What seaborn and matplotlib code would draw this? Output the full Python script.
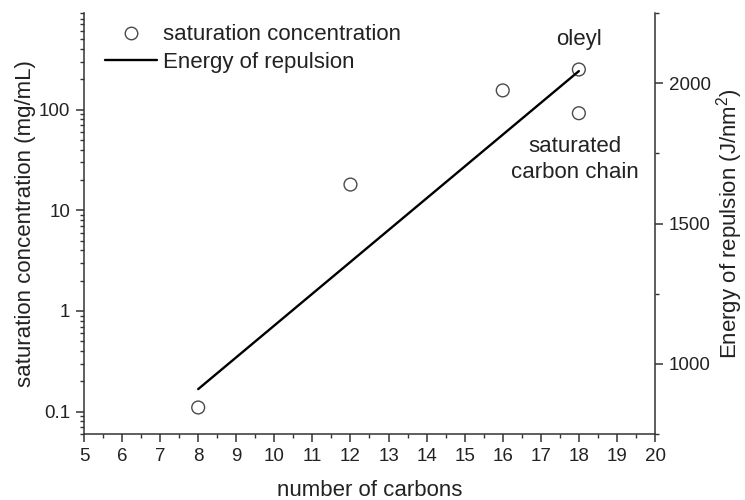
import matplotlib
matplotlib.use("Agg")
import matplotlib.pyplot as plt
from matplotlib.ticker import FixedLocator, LogLocator, MultipleLocator, FuncFormatter
from matplotlib.lines import Line2D
import numpy as np
import pandas as pd
import seaborn as sns

# Saturation concentration versus alkyl chain length
carbons = [8, 12, 16, 18, 18]
saturation_mg_ml = [0.11, 18, 155, 250, 92]

# Calculated energy of repulsion (right axis)
energy_carbons = [8, 18]
energy_j_nm2 = [910, 2043]

x_ticks = list(range(5, 21))
left_ticks = [0.1, 1, 10, 100]
left_tick_labels = ["0.1", "1", "10", "100"]
right_ticks = [1000, 1500, 2000]

sns.set_style("ticks")
plt.rcParams["font.family"] = ["Liberation Sans", "DejaVu Sans"]
plt.rcParams["mathtext.default"] = "regular"

ink = "#222222"
spine_col = "#333333"

fig = plt.figure(figsize=(7.45, 5.0), dpi=100)
ax = fig.add_axes([84 / 745, 1 - 434 / 500, (655 - 84) / 745, (434 - 13) / 500])
ax2 = ax.twinx()

sat_df = pd.DataFrame({"carbons": carbons, "saturation": saturation_mg_ml})
en_df = pd.DataFrame({"carbons": energy_carbons, "energy": energy_j_nm2})

sns.scatterplot(data=sat_df, x="carbons", y="saturation", ax=ax,
                marker="o", s=85, facecolor="none", edgecolor="#4a4a4a",
                linewidth=1.0, zorder=3, legend=False)
sns.lineplot(data=en_df, x="carbons", y="energy", ax=ax2,
             color="black", linewidth=1.7, legend=False)

# Left (log) axis
ax.set_yscale("log")
ax.set_ylim(0.06, 910)
ax.set_xlim(5, 20)
ax.xaxis.set_major_locator(FixedLocator(x_ticks))
ax.xaxis.set_minor_locator(MultipleLocator(0.5))
ax.yaxis.set_major_locator(FixedLocator(left_ticks))
ax.yaxis.set_major_formatter(FuncFormatter(
    lambda v, p: left_tick_labels[left_ticks.index(v)] if v in left_ticks else ""))
ax.yaxis.set_minor_locator(LogLocator(base=10, subs=np.arange(2, 10)))
ax.yaxis.set_minor_formatter(FuncFormatter(lambda v, p: ""))

# Right (linear) axis
ax2.set_ylim(750, 2250)
ax2.yaxis.set_major_locator(FixedLocator(right_ticks))
ax2.yaxis.set_minor_locator(MultipleLocator(250))

for a in (ax, ax2):
    for side, sp in a.spines.items():
        sp.set_color(spine_col)
        sp.set_linewidth(1.1)
    a.spines["top"].set_visible(False)
    a.tick_params(which="major", direction="out", length=6, width=1.1,
                  color=spine_col, labelsize=13.5, labelcolor=ink, pad=4)
    a.tick_params(which="minor", direction="out", length=3.2, width=1.0,
                  color=spine_col)
ax.spines["right"].set_visible(False)
ax2.spines["left"].set_visible(False)
ax2.spines["bottom"].set_visible(False)
ax.tick_params(axis="y", which="both", right=False)
ax.tick_params(axis="x", which="both", top=False)
ax2.tick_params(axis="y", which="both", left=False, right=True)

ax.set_xlabel("number of carbons", fontsize=16, color=ink, labelpad=11)
ax.set_ylabel("saturation concentration (mg/mL)", fontsize=16, color=ink, labelpad=2)
ax2.set_ylabel("Energy of repulsion (J/nm$^2$)", fontsize=16, color=ink, labelpad=2.5)

ax.text(18, 500, "oleyl", fontsize=16, color=ink, ha="center", va="center")
ax.text(17.9, 32, "saturated\ncarbon chain", fontsize=16, color=ink,
        ha="center", va="center", multialignment="center", linespacing=1.3)

handles = [
    Line2D([], [], linestyle="none", marker="o", markersize=9,
           markerfacecolor="none", markeredgecolor="#4a4a4a", markeredgewidth=1.0),
    Line2D([], [], color="black", linewidth=1.7),
]
ax2.legend(handles, ["saturation concentration", "Energy of repulsion"],
           loc="upper left", bbox_to_anchor=(0.036, 0.973), frameon=False,
           fontsize=16, labelcolor=ink, handlelength=2.35, handletextpad=0.3,
           borderpad=0, borderaxespad=0, labelspacing=0.28)

fig.savefig("out.png", dpi=100)
